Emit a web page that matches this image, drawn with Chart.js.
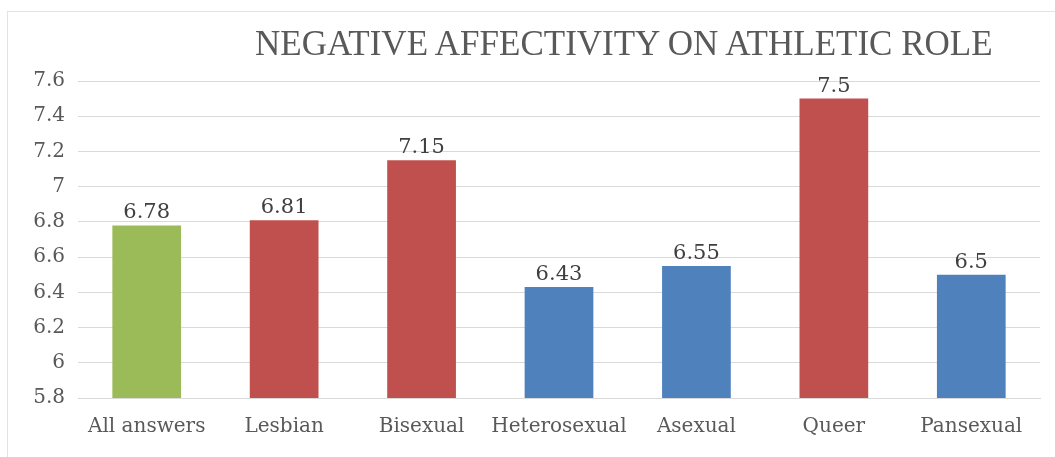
<!DOCTYPE html>
<html lang="en">
<head>
<meta name="viewport" content="width=device-width, initial-scale=1">
<title>Negative Affectivity on Athletic Role</title>
<style>
body { margin: 0; background: #fff; }
#wrap { position: relative; width: 1055px; height: 457px; }
#frame { position: absolute; left: 7px; top: 11px; right: 0; bottom: 0;
         border-top: 1px solid #e3e3e3; border-left: 1px solid #e3e3e3; }
#title { position: absolute; left: 255px; width: 730px; top: 24px; text-align: center;
         font-family: "Liberation Serif", serif; font-size: 35px; color: #595959;
         white-space: nowrap; }
</style>
</head>
<body>
<div id="wrap">
<div id="frame"></div>
<div id="title">NEGATIVE AFFECTIVITY ON ATHLETIC ROLE</div>
<canvas id="canvas" width="1055" height="457"></canvas>
</div>
<script src="https://cdn.jsdelivr.net/npm/chart.js"></script>
<script>

let CATEGORIES = ["All answers", "Lesbian", "Bisexual", "Heterosexual", "Asexual", "Queer", "Pansexual"]
let VALUES = [6.78, 6.81, 7.15, 6.43, 6.55, 7.5, 6.5]
let COLORS = ["#9BBB59", "#C0504D", "#C0504D", "#4F81BD", "#4F81BD", "#C0504D", "#4F81BD"]

let SERIF = "'DejaVu Serif', serif"

// value labels above each bar
let barLabels = {
    id: "barLabels",
    afterDatasetsDraw(chart) {
        let c = chart.ctx
        let meta = chart.getDatasetMeta(0)
        c.save()
        c.font = "21px " + SERIF
        c.fillStyle = "#404040"
        c.textAlign = "center"
        c.textBaseline = "bottom"
        meta.data.forEach((bar, i) => {
            c.fillText(String(VALUES[i]), bar.x, bar.y - 2)
        })
        c.restore()
    }
}

let ctx = document.getElementById("canvas")

new Chart(ctx, {
    type: "bar",
    data: {
        labels: CATEGORIES,
        datasets: [{
            data: VALUES,
            backgroundColor: COLORS,
            barPercentage: 0.5,
            categoryPercentage: 1,
        }]
    },
    options: {
        responsive: false,
        animation: false,
        layout: { padding: { left: 0, right: 15, top: 81, bottom: 0 } },
        plugins: {
            legend: { display: false },
            tooltip: { enabled: false },
        },
        scales: {
            x: {
                grid: { display: false },
                border: { color: "#d9d9d9" },
                ticks: {
                    color: "#595959",
                    font: { family: SERIF, size: 20 },
                    padding: 9,
                    maxRotation: 0,
                    autoSkip: false,
                },
                afterFit: (axis) => { axis.height = 59 },
            },
            y: {
                min: 5.8,
                max: 7.6,
                border: { display: false },
                grid: { color: "#d9d9d9", drawTicks: false },
                ticks: {
                    stepSize: 0.2,
                    color: "#595959",
                    font: { family: SERIF, size: 20 },
                    padding: 13,
                    callback: (val) => String(Math.round(val * 10) / 10),
                },
                afterFit: (axis) => { axis.width = 78 },
            }
        }
    },
    plugins: [barLabels],
})

</script>
</body>
</html>
